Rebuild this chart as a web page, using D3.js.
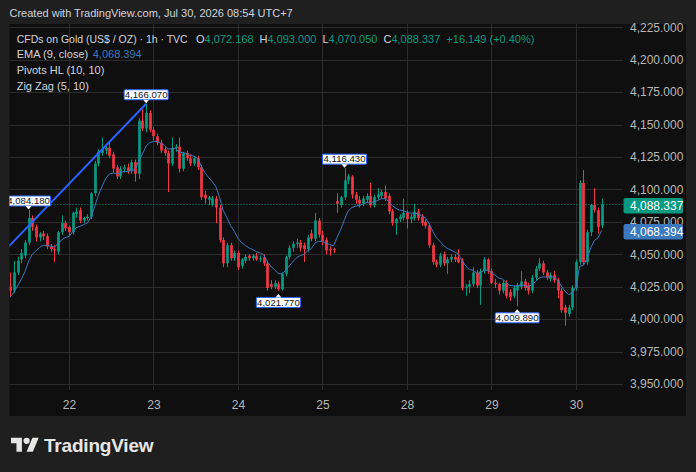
<!DOCTYPE html>
<html><head><meta charset="utf-8">
<script src="https://cdn.jsdelivr.net/npm/d3@7"></script>
<style>html,body{margin:0;padding:0;background:#1f1f1f;} svg{display:block;}</style>
</head><body>
<svg id="c" width="696" height="472"></svg>
<script>
// ---------- DATA ----------
const opens = [4025,4022,4036,4046,4049,4059,4078,4071,4063,4066,4064,4056,4054,4052,4067,4074,4071,4067,4081,4084,4076,4078,4079,4097,4120,4128,4130,4132,4127,4117,4110,4116,4117,4114,4121,4112,4153,4147,4159,4146,4141,4136,4131,4128,4120,4132,4133,4116,4128,4124,4120,4124,4117,4096,4092,4089,4093,4086,4061,4043,4057,4047,4051,4041,4045,4049,4047,4049,4046,4048,4043,4027,4025,4027,4023,4035,4048,4055,4058,4059,4057,4054,4066,4062,4076,4065,4061,4054,4054,4091,4088,4094,4107,4110,4096,4092,4089,4092,4095,4088,4094,4095,4098,4095,4083,4074,4077,4078,4082,4077,4078,4083,4079,4075,4072,4057,4044,4042,4050,4043,4046,4048,4047,4045,4024,4025,4027,4036,4026,4037,4046,4037,4028,4027,4022,4028,4021,4018,4022,4025,4029,4026,4022,4032,4039,4043,4036,4031,4034,4030,4022,4009,4004,4009,4024,4044,4105,4044,4067,4088,4084,4072.168];
const highs = [4036,4045,4048,4054,4061,4084.18,4080,4073,4067,4068,4066,4058,4057,4068,4080,4076,4072,4083,4086,4086,4079,4081,4098,4122,4131,4140,4134,4136,4129,4119,4118,4119,4120,4123,4123,4155,4162,4166.07,4161,4148,4143,4138,4133,4130,4140,4135,4140,4129,4130,4127,4126,4126,4119,4099,4095,4095,4095,4088,4063,4059,4059,4053,4053,4047,4050,4050,4050,4051,4049,4050,4045,4030,4030,4029,4036,4049,4057,4060,4062,4061,4059,4065,4069,4082,4078,4068,4063,4056,4055,4097,4095,4116.43,4112,4111,4098,4095,4095,4097,4105,4096,4101,4100,4103,4097,4085,4078,4081,4093,4084,4081,4089,4085,4081,4077,4074,4059,4046,4051,4052,4048,4050,4050,4054,4047,4027,4030,4040,4038,4039,4048,4047,4039,4031,4028,4030,4030,4023,4026,4028,4037,4031,4028,4034,4041,4047,4045,4038,4036,4037,4032,4024,4011,4011,4026,4046,4107,4115,4069,4089,4101,4086,4093.0];
const lows = [4017,4020,4034,4043,4047,4057,4068,4060,4060,4061,4054,4052,4044,4050,4065,4068,4064,4065,4078,4074,4074,4076,4077,4095,4118,4126,4127,4124,4113,4108,4108,4113,4112,4112,4106,4108,4145,4144,4144,4138,4134,4128,4126,4098,4118,4129,4113,4114,4122,4118,4118,4115,4092,4089,4088,4087,4074,4059,4040,4040,4045,4045,4038,4039,4043,4045,4045,4045,4044,4041,4022,4023,4023,4021.77,4022,4033,4046,4052,4055,4052,4044,4052,4060,4060,4063,4057,4050,4049,4051,4082,4086,4092,4104,4093,4089,4086,4087,4090,4086,4086,4092,4093,4091,4081,4072,4065,4075,4076,4070,4074,4076,4076,4072,4070,4055,4042,4040,4040,4041,4035,4044,4044,4043,4022,4018,4020,4025,4024,4011,4035,4035,4027,4024,4019,4020,4016,4014,4016,4009.89,4023,4022,4019,4020,4030,4037,4034,4030,4029,4028,4016,4005,3995,4002,4007,4022,4042,4042,4042,4064,4082,4066,4070.05];
const closes = [4022,4036,4045,4051,4059,4078,4071,4063,4066,4064,4056,4054,4053,4067,4074,4070,4067,4082,4083,4076,4078,4079,4097,4120,4129,4131,4132,4126,4116,4110,4116,4117,4114,4121,4112,4153,4147,4159,4146,4141,4136,4130,4128,4120,4132,4133,4116,4128,4124,4120,4124,4117,4094,4093,4094,4093,4086,4061,4043,4057,4047,4051,4040,4046,4048,4047,4049,4046,4047,4043,4024,4025,4028,4023,4035,4048,4055,4058,4059,4055,4054,4063,4062,4076,4065,4060,4053,4053,4053,4089,4094,4107,4110,4096,4092,4089,4093,4095,4088,4094,4096,4098,4093,4083,4074,4077,4079,4082,4077,4079,4083,4078,4074,4072,4057,4044,4042,4049,4043,4046,4048,4046,4044,4024,4025,4027,4036,4026,4037,4046,4037,4028,4027,4022,4028,4018,4017,4024,4026,4029,4024,4022,4032,4039,4043,4036,4032,4034,4030,4022,4007,4005,4009,4024,4044,4105,4044,4067,4088,4084,4071,4088.337];
const ema9 = [4017.0,4020.8,4025.6,4030.7,4036.4,4044.7,4050.0,4052.6,4055.3,4057.0,4056.8,4056.2,4055.6,4057.9,4061.1,4062.9,4063.7,4067.4,4070.5,4071.6,4072.9,4074.1,4078.7,4087.0,4095.4,4102.5,4108.4,4111.9,4112.7,4112.2,4113.0,4113.8,4113.8,4115.2,4114.6,4122.3,4127.2,4133.6,4136.1,4137.1,4136.9,4135.5,4134.0,4131.2,4131.4,4131.7,4128.6,4128.5,4127.6,4126.1,4125.7,4124.0,4118.0,4113.0,4109.2,4106.0,4102.0,4093.8,4083.6,4078.3,4072.0,4067.8,4062.3,4059.0,4056.8,4054.9,4053.7,4052.1,4051.1,4049.5,4044.4,4040.5,4038.0,4035.0,4035.0,4037.6,4041.1,4044.5,4047.4,4049.0,4050.0,4052.6,4054.5,4058.8,4060.0,4060.0,4058.6,4057.5,4056.6,4063.1,4069.3,4076.8,4083.5,4086.0,4087.2,4087.5,4088.6,4089.9,4089.5,4090.4,4091.5,4092.8,4092.9,4090.9,4087.5,4085.4,4084.1,4083.7,4082.4,4081.7,4081.9,4081.1,4079.7,4078.2,4073.9,4067.9,4062.8,4060.0,4056.6,4054.5,4053.2,4051.8,4050.2,4045.0,4041.0,4038.2,4037.7,4035.4,4035.7,4037.8,4037.6,4035.7,4033.9,4031.6,4030.9,4028.3,4026.0,4025.6,4025.7,4026.4,4025.9,4025.1,4026.5,4029.0,4031.8,4032.6,4032.5,4032.8,4032.2,4030.2,4025.5,4021.4,4019.0,4020.0,4024.8,4040.8,4041.4,4046.5,4054.8,4060.6,4062.7,4068.394];
const dayTicks = [16,39,62,85,108,131,154];
const dayLabels = ["22","23","24","25","28","29","30"];
const priceTicks = [3950,3975,4000,4025,4050,4075,4100,4125,4150,4175,4200,4225];
const pivots = [
  {i:5, p:4084.18, type:"H"},
  {i:37, p:4166.07, type:"H"},
  {i:73, p:4021.77, type:"L"},
  {i:91, p:4116.43, type:"H"},
  {i:138, p:4009.89, type:"L"}
];
const zigzag = [{i:-12, p:4022.0},{i:37, p:4166.07}];
const change = "+16.149 (+0.40%)";
const headerText = "Created with TradingView.com, Jul 30, 2026 08:54 UTC+7";
const symbolText = "CFDs on Gold (US$ / OZ) · 1h · TVC";
const legendLines = ["EMA (9, close)", "Pivots HL (10, 10)", "Zig Zag (5, 10)"];

// ---------- STYLE ----------
const UP = "#089981", DOWN = "#f23645", EMA_C = "#3c78bd", ZZ = "#2962ff";
const TXT = "#d1d4dc", GRID = "#2c2c2c", FONT = "'Liberation Sans', Arial, sans-serif";

const svg = d3.select("#c");
const W = 696, H = 472;
const plot = {l: 9.5, r: 623, t: 24, b: 390};

svg.append("rect").attr("width", W).attr("height", H).attr("fill", "#1f1f1f");
svg.append("rect").attr("x", 9.5).attr("y", 24).attr("width", 676.5).attr("height", 392).attr("fill", "#0f0f0f");

const n = closes.length;
const x = d3.scaleLinear().domain([0, n - 1]).range([10.2, 601.7]);
const y = d3.scaleLinear().domain([3950, 4225]).range([384, 27.3]);
const fmt = d3.format(",.3f");

svg.append("defs").append("clipPath").attr("id", "clip")
  .append("rect").attr("x", plot.l).attr("y", plot.t).attr("width", plot.r - plot.l).attr("height", plot.b - plot.t);

// grid
const grid = svg.append("g");
grid.selectAll("line.h").data(priceTicks).join("line")
  .attr("x1", plot.l).attr("x2", plot.r)
  .attr("y1", d => Math.round(y(d)) + 0.5).attr("y2", d => Math.round(y(d)) + 0.5)
  .attr("stroke", GRID).attr("stroke-width", 1);
grid.selectAll("line.v").data(dayTicks).join("line")
  .attr("x1", d => Math.round(x(d)) + 0.5).attr("x2", d => Math.round(x(d)) + 0.5)
  .attr("y1", plot.t).attr("y2", plot.b)
  .attr("stroke", GRID).attr("stroke-width", 1);

const chart = svg.append("g").attr("clip-path", "url(#clip)");

// last price dotted line
const lastClose = closes[n - 1];
chart.append("line").attr("x1", plot.l).attr("x2", plot.r)
  .attr("y1", y(lastClose)).attr("y2", y(lastClose))
  .attr("stroke", UP).attr("stroke-width", 1).attr("stroke-dasharray", "1 2");

// candles
const idx = d3.range(n);
const bw = 2.7;
chart.selectAll("line.wick").data(idx).join("line")
  .attr("x1", i => Math.round(x(i)) + 0.5).attr("x2", i => Math.round(x(i)) + 0.5)
  .attr("y1", i => y(highs[i])).attr("y2", i => y(lows[i]))
  .attr("stroke", i => closes[i] >= opens[i] ? UP : DOWN).attr("stroke-width", 1);
chart.selectAll("rect.body").data(idx).join("rect")
  .attr("x", i => Math.round(x(i)) + 0.5 - bw / 2).attr("width", bw)
  .attr("y", i => y(Math.max(opens[i], closes[i])))
  .attr("height", i => Math.max(1, Math.abs(y(opens[i]) - y(closes[i]))))
  .attr("fill", i => closes[i] >= opens[i] ? UP : DOWN);

// EMA
chart.append("path").datum(idx)
  .attr("d", d3.line().x(i => x(i)).y(i => y(ema9[i])))
  .attr("fill", "none").attr("stroke", EMA_C).attr("stroke-width", 1);

// Zig Zag
chart.append("path").datum(zigzag)
  .attr("d", d3.line().x(d => x(d.i)).y(d => y(d.p)))
  .attr("fill", "none").attr("stroke", ZZ).attr("stroke-width", 2);

// Pivot labels
const pv = chart.selectAll("g.pv").data(pivots).join("g");
pv.each(function(d) {
  const g = d3.select(this);
  const cx = x(d.i), py = y(d.p);
  const t = fmt(d.p);
  const bh = 10, bwid = 44;
  const boxY = d.type === "H" ? py - 14 : py + 6.5;
  g.append("rect").attr("x", cx - bwid / 2).attr("y", boxY).attr("width", bwid).attr("height", bh)
    .attr("fill", "#ffffff").attr("stroke", ZZ).attr("stroke-width", 1).attr("rx", 1);
  if (d.type === "H") {
    g.append("path").attr("d", `M${cx - 3},${boxY + bh} L${cx + 3},${boxY + bh} L${cx},${boxY + bh + 3.5} Z`).attr("fill", "#ffffff");
  } else {
    g.append("path").attr("d", `M${cx - 3},${boxY} L${cx + 3},${boxY} L${cx},${boxY - 3.5} Z`).attr("fill", "#ffffff");
  }
  g.append("text").attr("x", cx).attr("y", boxY + 8.3).attr("text-anchor", "middle")
    .attr("font-family", FONT).attr("font-size", 9.6).attr("fill", "#131722").text(t);
});

// Price axis
const yAxis = d3.axisRight(y).tickValues(priceTicks).tickFormat(fmt).tickSize(0).tickPadding(7);
const ya = svg.append("g").attr("transform", `translate(${plot.r},0)`).call(yAxis);
ya.select(".domain").remove();
ya.selectAll("text").attr("font-family", FONT).attr("font-size", 12).attr("fill", "#b8b8b8");

// Time axis
const xAxis = d3.axisBottom(x).tickValues(dayTicks).tickFormat((d, k) => dayLabels[k]).tickSize(0).tickPadding(10);
const xa = svg.append("g").attr("transform", `translate(0,${plot.b})`).call(xAxis);
xa.select(".domain").remove();
xa.selectAll("text").attr("font-family", FONT).attr("font-size", 12).attr("fill", "#b8b8b8");

// Price labels on axis
function priceTag(val, color) {
  const yc = y(val);
  svg.append("rect").attr("x", 623.5).attr("y", yc - 6.5).attr("width", 59.5).attr("height", 15.5)
    .attr("rx", 2).attr("fill", color);
  svg.append("text").attr("x", 630).attr("y", yc + 5.5)
    .attr("font-family", FONT).attr("font-size", 12).attr("fill", "#ffffff").text(fmt(val));
}
priceTag(lastClose, UP);
priceTag(ema9[n - 1], EMA_C);

// Legend
const lg = svg.append("g").attr("font-family", FONT).attr("font-size", 11);
lg.append("text").attr("x", 16.7).attr("y", 43.3).attr("fill", TXT)
  .attr("textLength", 171).attr("lengthAdjust", "spacingAndGlyphs").text(symbolText);
let cx0 = 196;
const ohlc = [["O", opens[n - 1]], ["H", highs[n - 1]], ["L", lows[n - 1]], ["C", closes[n - 1]]];
ohlc.forEach(([k, v]) => {
  const t = lg.append("text").attr("x", cx0).attr("y", 43.3);
  t.append("tspan").attr("fill", TXT).text(k);
  t.append("tspan").attr("fill", UP).text(fmt(v));
  cx0 += t.node().getComputedTextLength() + 6;
});
lg.append("text").attr("x", cx0).attr("y", 43.3).attr("fill", UP).text(change);

const e = lg.append("text").attr("x", 16.7).attr("y", 58.3).attr("fill", TXT).text(legendLines[0]);
lg.append("text").attr("x", 16.7 + e.node().getComputedTextLength() + 4.5).attr("y", 58.3)
  .attr("fill", EMA_C).text(fmt(ema9[n - 1]));
lg.append("text").attr("x", 16.7).attr("y", 74).attr("fill", TXT).text(legendLines[1]);
lg.append("text").attr("x", 16.7).attr("y", 89.8).attr("fill", TXT).text(legendLines[2]);

// Header
svg.append("text").attr("x", 9.5).attr("y", 17).attr("font-family", FONT).attr("font-size", 11)
  .attr("fill", TXT).text(headerText);

// TradingView logo
const logo = svg.append("g").attr("fill", "#e6e6e6");
const lgIcon = logo.append("g").attr("transform", "translate(11,434.6) scale(0.78)");
lgIcon.append("path").attr("d", "M14 22H7V11H0V4h14v18z");
lgIcon.append("path").attr("d", "M28 22h-8l7.5-18h8L28 22z");
lgIcon.append("circle").attr("cx", 20).attr("cy", 8).attr("r", 4);
logo.append("text").attr("x", 44).attr("y", 451.5).attr("font-family", FONT)
  .attr("font-size", 19).attr("font-weight", 700).attr("letter-spacing", -0.2).text("TradingView");
</script>
</body></html>
